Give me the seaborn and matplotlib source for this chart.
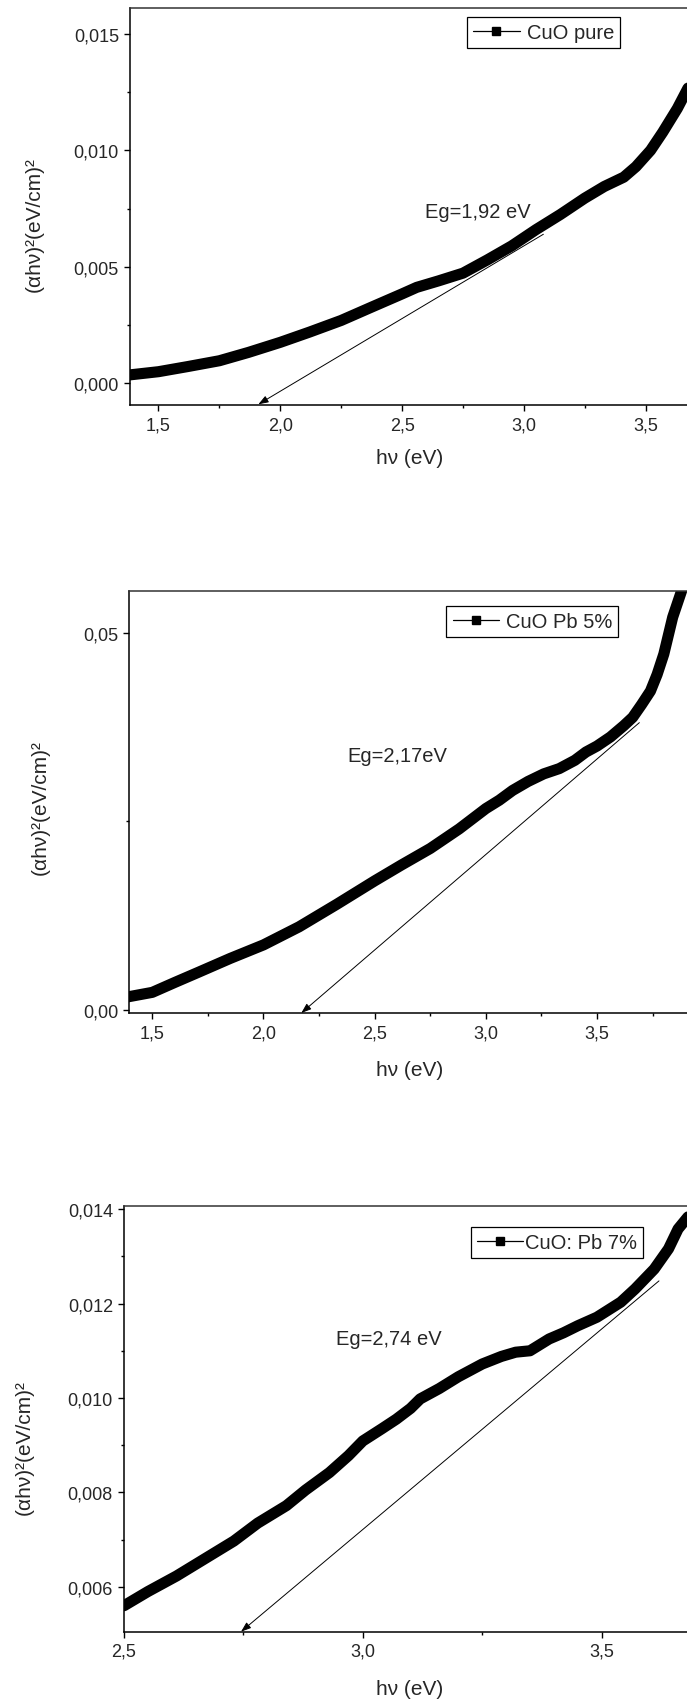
import matplotlib
matplotlib.use('Agg')
import matplotlib.pyplot as plt
from matplotlib.lines import Line2D
from matplotlib.ticker import MultipleLocator, FuncFormatter
import seaborn as sns

# données : (alpha h nu)^2 en fonction de h nu
hv_pure = [1.38, 1.50, 1.62, 1.75, 1.87, 2.00, 2.12, 2.25, 2.37, 2.50, 2.56, 2.65,
           2.75, 2.85, 2.95, 3.05, 3.15, 3.25, 3.33, 3.41, 3.46, 3.52, 3.57, 3.63, 3.69]
ahv_pure = [0.00036, 0.00050, 0.00072, 0.00097, 0.00133, 0.00176, 0.00220, 0.00270,
            0.00325, 0.00384, 0.00412, 0.00440, 0.00473, 0.00530, 0.00590, 0.00660,
            0.00725, 0.00795, 0.00845, 0.00885, 0.00930, 0.01000, 0.01078, 0.01180, 0.01300]

hv_pb5 = [1.39, 1.50, 1.60, 1.71, 1.85, 2.00, 2.16, 2.33, 2.50, 2.62, 2.75, 2.88, 3.00,
          3.06, 3.12, 3.19, 3.26, 3.33, 3.40, 3.45, 3.50, 3.56, 3.62, 3.66, 3.70, 3.74,
          3.77, 3.80, 3.84, 3.88, 3.91]
ahv_pb5 = [0.0017, 0.0023, 0.0036, 0.0050, 0.0068, 0.0086, 0.0110, 0.0140, 0.0171, 0.0192,
           0.0214, 0.0240, 0.0267, 0.0278, 0.0291, 0.0303, 0.0313, 0.0320, 0.0331, 0.0342,
           0.0350, 0.0362, 0.0377, 0.0388, 0.0405, 0.0423, 0.0445, 0.0472, 0.0521, 0.0556, 0.0590]

hv_pb7 = [2.50, 2.55, 2.61, 2.67, 2.73, 2.78, 2.84, 2.88, 2.93, 2.97, 3.00, 3.04, 3.07,
          3.10, 3.12, 3.16, 3.20, 3.25, 3.29, 3.32, 3.35, 3.39, 3.42, 3.45, 3.49, 3.54,
          3.57, 3.61, 3.64, 3.66, 3.69]
ahv_pb7 = [0.00560, 0.00590, 0.00623, 0.00660, 0.00697, 0.00735, 0.00772, 0.00805, 0.00842,
           0.00878, 0.00909, 0.00935, 0.00955, 0.00978, 0.00998, 0.01020, 0.01045, 0.01072,
           0.01088, 0.01097, 0.01100, 0.01125, 0.01138, 0.01153, 0.01171, 0.01203, 0.01231,
           0.01273, 0.01316, 0.01358, 0.01395]

labels = ['CuO pure', 'CuO Pb 5%', 'CuO: Pb 7%']
eg_text = ['Eg=1,92 eV', 'Eg=2,17eV', 'Eg=2,74 eV']
eg_pos = [(2.81, 0.00736), (2.60, 0.0337), (3.054, 0.01125)]
# droites tangentes : (queue, pointe)
tangents = [((3.08, 0.0064), (1.91, -0.0009)),
            ((3.69, 0.0381), (2.17, -0.00044)),
            ((3.62, 0.01248), (2.745, 0.00505))]

sns.set_style('ticks')
plt.rcParams['font.family'] = ['Liberation Sans', 'DejaVu Sans']

W, H = 687, 1706
fig = plt.figure(figsize=(W / 100, H / 100), dpi=100)

# géométrie en pixels : gauche, droite, haut, bas
boxes = [(130, 690.5, 9.3, 406), (129.3, 690.5, 591.5, 1014), (124, 690.5, 1207.3, 1632.7)]
xlims = [(1.383, 3.684), (1.3966, 3.920), (2.5, 3.686)]
ylims = [(-0.00093, 0.0161), (-0.00044, 0.05564), (0.00505, 0.01406)]
ymaj = [0.005, 0.05, 0.002]
ydec = [3, 2, 3]
xmaj = [0.5, 0.5, 0.5]
ylab_pos = [(34, 225), (40, 808), (24, 1448)]
xlab_pos = [(410, 459), (410, 1071), (410, 1690)]
leg_pos = [(620, 18.3), (618.3, 606.7), (643.3, 1227.7)]
leg_pad = [0.35, 0.35, 0.1]

series = [(hv_pure, ahv_pure), (hv_pb5, ahv_pb5), (hv_pb7, ahv_pb7)]


def comma_fmt(nd):
    def f(v, pos):
        s = f'{v:.{nd}f}'
        if s.startswith('-') and float(s) == 0:
            s = s[1:]
        return s.replace('.', ',')
    return FuncFormatter(f)


for i in range(3):
    l, r, t, b = boxes[i]
    ax = fig.add_axes([l / W, 1 - b / H, (r - l) / W, (b - t) / H])
    x, y = series[i]
    sns.lineplot(x=x, y=y, ax=ax, color='black', lw=8, solid_joinstyle='round',
                 solid_capstyle='round', legend=False)
    ax.set_xlim(*xlims[i])
    ax.set_ylim(*ylims[i])

    ax.xaxis.set_major_locator(MultipleLocator(xmaj[i]))
    ax.xaxis.set_minor_locator(MultipleLocator(xmaj[i] / 2))
    ax.yaxis.set_major_locator(MultipleLocator(ymaj[i]))
    ax.yaxis.set_minor_locator(MultipleLocator(ymaj[i] / 2))
    ax.xaxis.set_major_formatter(comma_fmt(1))
    ax.yaxis.set_major_formatter(comma_fmt(ydec[i]))
    ax.tick_params(which='major', direction='out', length=4.5, width=1.0,
                   labelsize=13, color='black', top=False, right=False)
    ax.tick_params(which='minor', direction='out', length=2.5, width=1.0,
                   color='black', top=False, right=False)
    for sp in ax.spines.values():
        sp.set_linewidth(1.1)
        sp.set_color('black')
    ax.spines['top'].set_color('#333333')

    ax.set_xlabel('hν (eV)', fontsize=15)
    ax.set_ylabel('(αhν)²(eV/cm)²', fontsize=15)
    ax.xaxis.label.set_va('center')
    ax.yaxis.label.set_va('center')
    lx, ly = xlab_pos[i]
    ax.xaxis.set_label_coords((lx - l) / (r - l), (b - ly) / (b - t))
    lx, ly = ylab_pos[i]
    ax.yaxis.set_label_coords((lx - l) / (r - l), (b - ly) / (b - t))

    tx, ty = eg_pos[i]
    ax.text(tx, ty, eg_text[i], fontsize=14.5, ha='center', va='center')

    tail, head = tangents[i]
    ax.annotate('', xy=head, xytext=tail, annotation_clip=False,
                arrowprops=dict(arrowstyle='-|>,head_length=0.5,head_width=0.18',
                                color='black', lw=0.7, mutation_scale=12,
                                shrinkA=0, shrinkB=0))

    handle = Line2D([0], [0], color='black', lw=0.9, marker='s', markersize=6)
    lxp, lyp = leg_pos[i]
    leg = ax.legend([handle], [labels[i]], loc='upper right',
                    bbox_to_anchor=(lxp / W, 1 - lyp / H), bbox_transform=fig.transFigure,
                    borderaxespad=0, fontsize=14.5, frameon=True, fancybox=False,
                    framealpha=1, edgecolor='black', handlelength=2.3,
                    handletextpad=leg_pad[i], borderpad=0.3)
    leg.get_frame().set_linewidth(0.9)

fig.savefig('out.png', dpi=100)
